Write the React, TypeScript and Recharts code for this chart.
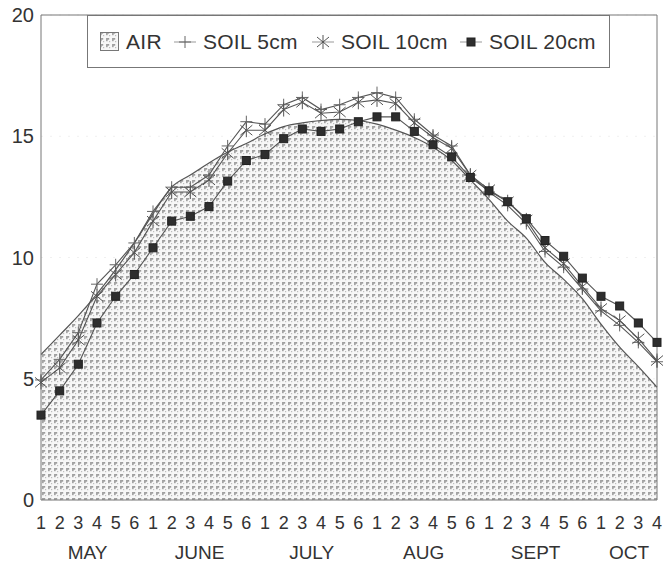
import React from 'react';
import { ComposedChart, Area, Line, XAxis, YAxis, CartesianGrid, ReferenceLine, Legend } from 'recharts';

const weekLabels = [
	'1', '2', '3', '4', '5', '6',
	'1', '2', '3', '4', '5', '6',
	'1', '2', '3', '4', '5', '6',
	'1', '2', '3', '4', '5', '6',
	'1', '2', '3', '4', '5', '6',
	'1', '2', '3', '4',
];
const months = ['MAY', 'JUNE', 'JULY', 'AUG', 'SEPT', 'OCT'];
const monthWeeks = [6, 6, 6, 6, 6, 4];

const air = [
	6.0, 6.8, 7.6, 8.5, 9.5, 10.6, 11.8, 12.9, 13.4, 13.9, 14.35, 14.7,
	15.1, 15.4, 15.55, 15.65, 15.7, 15.65, 15.5, 15.25, 14.95, 14.55, 14.0, 13.2,
	12.4, 11.5, 10.8, 9.8, 9.1, 8.3, 7.25, 6.3, 5.5, 4.65,
];
const soil5 = [
	4.95, 5.8, 6.9, 8.9, 9.7, 10.6, 11.9, 12.9, 12.9, 13.4, 14.6, 15.6,
	15.5, 16.3, 16.6, 16.1, 16.3, 16.6, 16.8, 16.6, 15.7, 15.05, 14.6, 13.4,
	12.7, 12.15, 11.4, 10.25, 9.6, 8.7, 7.8, 7.2, 6.5, 5.7,
];
const soil10 = [
	4.85, 5.45, 6.6, 8.4, 9.3, 10.2, 11.5, 12.7, 12.7, 13.2, 14.3, 15.25,
	15.25, 16.1, 16.4, 15.95, 16.0, 16.4, 16.5, 16.35, 15.55, 14.95, 14.5, 13.4,
	12.8, 12.3, 11.55, 10.4, 9.75, 8.8, 7.9, 7.4, 6.65, 5.75,
];
const soil20 = [
	3.5, 4.5, 5.6, 7.3, 8.4, 9.3, 10.4, 11.5, 11.7, 12.1, 13.15, 14.0,
	14.25, 14.9, 15.3, 15.2, 15.3, 15.6, 15.8, 15.8, 15.2, 14.65, 14.15, 13.3,
	12.75, 12.3, 11.6, 10.7, 10.05, 9.15, 8.4, 8.0, 7.3, 6.5,
];
const yTicks = [0, 5, 10, 15, 20];

const data = weekLabels.map((w, i) => ({
	idx: i,
	week: w,
	air: air[i],
	soil5: soil5[i],
	soil10: soil10[i],
	soil20: soil20[i],
}));

const W = 664;
const H = 563;
const PLOT_LEFT = 41;
const PLOT_RIGHT = 657;
const STEP = (PLOT_RIGHT - PLOT_LEFT) / (weekLabels.length - 1);
const FONT = '"Liberation Sans", Arial, Helvetica, sans-serif';
const INK = '#333';
const LINE = '#555';

// month label goes under the middle of its block of weeks
const monthCenters: { [k: number]: { name: string; shift: number } } = {};
{
	let start = 0;
	months.forEach((m, k) => {
		const center = start + (monthWeeks[k] - 1) / 2;
		const at = Math.floor(center);
		monthCenters[at] = { name: m, shift: (center - at) * STEP };
		start += monthWeeks[k];
	});
}

const WeekTick = (props: any) => {
	const { x, y, payload } = props;
	const i = payload.value as number;
	const month = monthCenters[i];
	return (
		<g>
			<text x={x} y={y + 27} textAnchor='middle' fontSize={18} fill={INK} fontFamily={FONT}>
				{weekLabels[i]}
			</text>
			{month && (
				<text x={x + month.shift} y={y + 57} textAnchor='middle' fontSize={19} fill={INK} fontFamily={FONT}>
					{month.name}
				</text>
			)}
		</g>
	);
};

const PlusDot = (props: any) => {
	const { cx, cy, index } = props;
	return (
		<g key={`p-${index}`} stroke='#666' strokeWidth={1}>
			<line x1={cx - 6} y1={cy} x2={cx + 6} y2={cy} />
			<line x1={cx} y1={cy - 6} x2={cx} y2={cy + 6} />
		</g>
	);
};

const StarDot = (props: any) => {
	const { cx, cy, index } = props;
	return (
		<g key={`s-${index}`} stroke='#555' strokeWidth={1}>
			<line x1={cx - 6} y1={cy - 5} x2={cx + 6} y2={cy + 5} />
			<line x1={cx - 6} y1={cy + 5} x2={cx + 6} y2={cy - 5} />
			<line x1={cx} y1={cy - 7} x2={cx} y2={cy + 7} />
		</g>
	);
};

const SquareDot = (props: any) => {
	const { cx, cy, index } = props;
	return <rect key={`q-${index}`} x={cx - 4} y={cy - 4} width={8} height={8} fill='#2e2e2e' stroke='#222' />;
};

const LegendBox = () => {
	const item = (icon: React.ReactNode, label: string, gapAfter: number) => (
		<div style={{ display: 'flex', alignItems: 'center', marginRight: gapAfter }}>
			{icon}
			<span style={{ marginLeft: 7 }}>{label}</span>
		</div>
	);
	const lineIcon = (marker: React.ReactNode) => (
		<svg width={22} height={20}>
			<line x1={0} y1={10} x2={22} y2={10} stroke='#999' strokeWidth={1} />
			{marker}
		</svg>
	);
	return (
		<div
			style={{
				boxSizing: 'border-box',
				width: 523,
				height: 53,
				border: '1px solid #777',
				background: '#fff',
				display: 'flex',
				alignItems: 'center',
				paddingLeft: 12,
				fontFamily: FONT,
				fontSize: 21,
				letterSpacing: 0.3,
				color: INK,
			}}
		>
			{item(
				<svg width={19} height={19}>
					<rect x={0.5} y={0.5} width={18} height={18} fill='url(#airHatch)' stroke='#777' />
				</svg>,
				'AIR',
				12
			)}
			{item(lineIcon(<PlusDot cx={11} cy={10} index={0} />), 'SOIL 5cm', 14)}
			{item(lineIcon(<StarDot cx={11} cy={10} index={0} />), 'SOIL 10cm', 12)}
			{item(lineIcon(<SquareDot cx={11} cy={10} index={0} />), 'SOIL 20cm', 0)}
		</div>
	);
};

export default function App() {
	return (
		<div style={{ position: 'absolute', left: 0, top: 0, width: W, height: H, background: '#fff' }}>
			<ComposedChart width={W} height={H} data={data} margin={{ top: 15, right: W - PLOT_RIGHT, left: 0, bottom: 0 }}>
				<defs>
					<pattern id='airHatch' width='6' height='6' patternUnits='userSpaceOnUse'>
						<rect width='6' height='6' fill='#f7f7f7' />
						<rect x='0' y='0' width='3.2' height='1.7' fill='#9c9c9c' />
						<rect x='0' y='0' width='1.7' height='3.2' fill='#a4a4a4' />
						<rect x='3' y='3' width='1.2' height='1.2' fill='#bdbdbd' />
					</pattern>
				</defs>
				<CartesianGrid vertical={false} stroke='#f0f0f0' strokeDasharray='2 7' />
				<XAxis
					dataKey='idx'
					type='number'
					domain={[0, weekLabels.length - 1]}
					ticks={data.map((d) => d.idx)}
					interval={0}
					tickLine={false}
					tickSize={0}
					height={63}
					axisLine={{ stroke: '#777' }}
					tick={<WeekTick />}
				/>
				<YAxis
					domain={[0, 20]}
					ticks={yTicks}
					interval={0}
					width={PLOT_LEFT}
					tickLine={false}
					tickSize={0}
					tickMargin={7}
					axisLine={{ stroke: '#777' }}
					tick={{ fontSize: 20, fill: INK, fontFamily: FONT }}
				/>
				<ReferenceLine y={20} stroke='#777' />
				<ReferenceLine x={weekLabels.length - 1} stroke='#777' />
				<Area
					type='monotone'
					dataKey='air'
					name='AIR'
					stroke={LINE}
					strokeWidth={1.2}
					fill='url(#airHatch)'
					fillOpacity={1}
					isAnimationActive={false}
					activeDot={false}
				/>
				<Line
					type='linear'
					dataKey='soil5'
					name='SOIL 5cm'
					stroke={LINE}
					strokeWidth={1.1}
					dot={(p: any) => <PlusDot {...p} key={`p-${p.index}`} />}
					activeDot={false}
					isAnimationActive={false}
				/>
				<Line
					type='linear'
					dataKey='soil10'
					name='SOIL 10cm'
					stroke={LINE}
					strokeWidth={1.1}
					dot={(p: any) => <StarDot {...p} key={`s-${p.index}`} />}
					activeDot={false}
					isAnimationActive={false}
				/>
				<Line
					type='linear'
					dataKey='soil20'
					name='SOIL 20cm'
					stroke={LINE}
					strokeWidth={1.1}
					dot={(p: any) => <SquareDot {...p} key={`q-${p.index}`} />}
					activeDot={false}
					isAnimationActive={false}
				/>
				<Legend
					layout='horizontal'
					verticalAlign='middle'
					align='center'
					content={() => <LegendBox />}
					wrapperStyle={{ top: 15, left: 87, width: 523, height: 53 }}
				/>
			</ComposedChart>
		</div>
	);
}
